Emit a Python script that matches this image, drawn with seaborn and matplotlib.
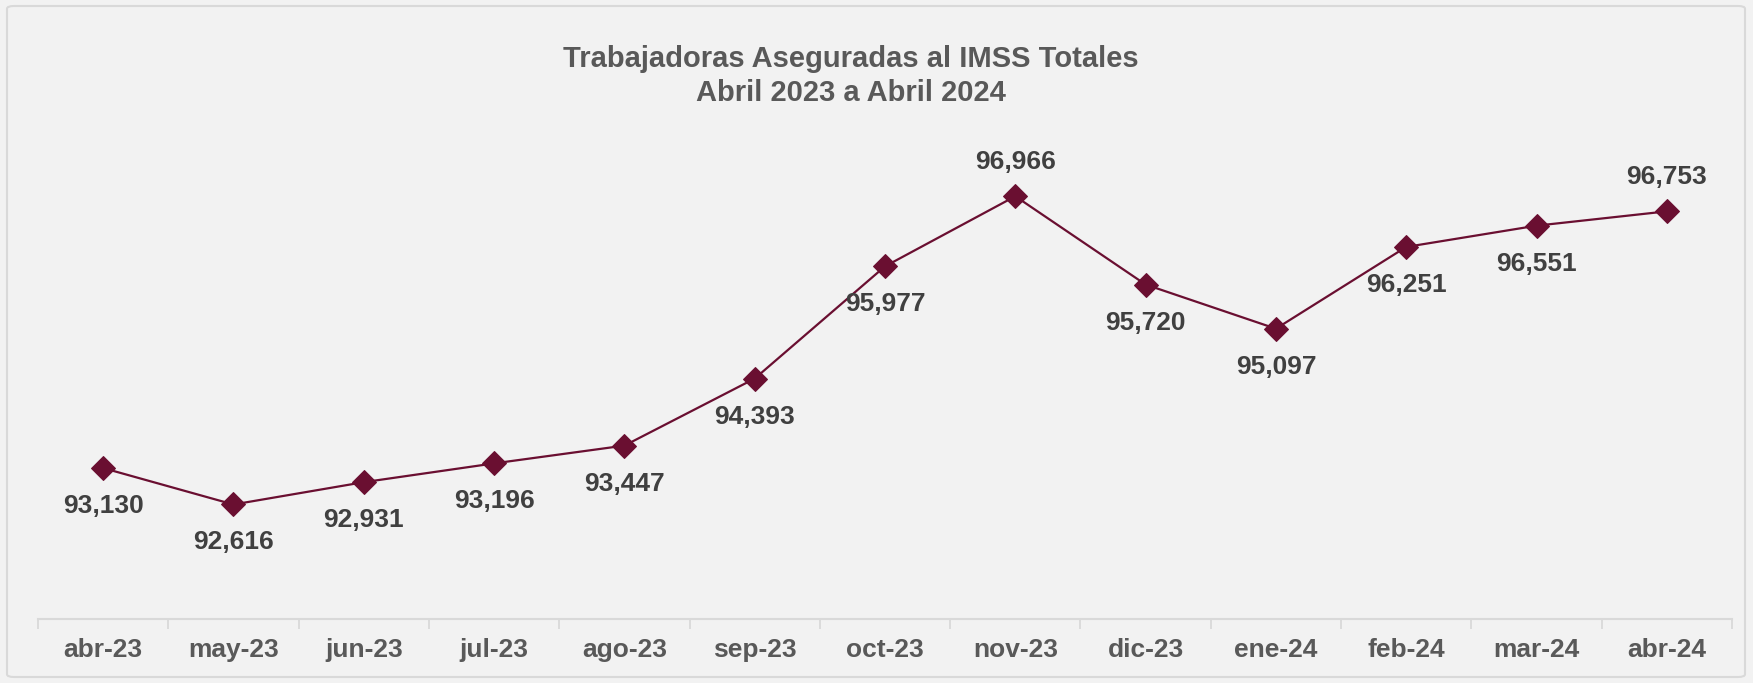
import matplotlib
matplotlib.use("Agg")
import matplotlib.pyplot as plt
import seaborn as sns
import pandas as pd
from matplotlib.patches import FancyBboxPatch

months = ["abr-23", "may-23", "jun-23", "jul-23", "ago-23", "sep-23", "oct-23",
          "nov-23", "dic-23", "ene-24", "feb-24", "mar-24", "abr-24"]
workers = [93130, 92616, 92931, 93196, 93447, 94393, 95977,
           96966, 95720, 95097, 96251, 96551, 96753]
title_lines = ["Trabajadoras Aseguradas al IMSS Totales", "Abril 2023 a Abril 2024"]

sns.set_theme(style="white")
plt.rcParams['font.family'] = ['Liberation Sans', 'DejaVu Sans']
plt.rcParams['font.weight'] = 'bold'

BG = "#f2f2f2"
LINE = "#6a0f31"
W, H = 1753, 683
fig = plt.figure(figsize=(W / 100, H / 100), dpi=100, facecolor=BG)

# outer border
fig.patches.append(FancyBboxPatch((7 / W, 6 / H), (1745 - 7) / W, (677 - 6) / H,
                                  boxstyle="round,pad=0,rounding_size=0.004",
                                  transform=fig.transFigure, facecolor="none",
                                  edgecolor="#d9d9d9", linewidth=1.5, zorder=0))

ax = fig.add_axes([38 / W, 1 - 619 / H, (1732 - 38) / W, (619 - 123) / H])
ax.set_facecolor(BG)
ax.patch.set_alpha(0)

df = pd.DataFrame({"idx": range(len(months)), "month": months, "value": workers})
sns.lineplot(data=df, x="idx", y="value", ax=ax, color=LINE, linewidth=1.6,
             marker="D", markersize=12, markeredgecolor=LINE, markerfacecolor=LINE)

ax.set_xlim(-0.5, len(months) - 0.5)
ax.set_ylim(91000, 98000)
ax.set_xticks(range(len(months)))
ax.set_xticklabels(months, fontsize=19, fontweight='bold', color="#595959")
ax.set_xticks([i - 0.5 for i in range(len(months) + 1)], minor=True)
ax.tick_params(axis='x', which='major', bottom=True, length=0, pad=14)
ax.tick_params(axis='x', which='minor', bottom=True, length=7, width=1.3,
               color="#d9d9d9", direction='out')
ax.set_yticks([])
ax.set_xlabel("")
ax.set_ylabel("")
for s in ["top", "right", "left"]:
    ax.spines[s].set_visible(False)
ax.spines["bottom"].set_color("#d9d9d9")
ax.spines["bottom"].set_linewidth(1.5)

above = {"nov-23", "abr-24"}
for i, (m, v) in enumerate(zip(months, workers)):
    off = 34 if m in above else -38
    ax.annotate(f"{v:,}", (i, v), xytext=(0, off), textcoords="offset pixels",
                ha="center", va="center", fontsize=19, fontweight="bold", color="#404040")

fig.text(851 / W, 1 - 67 / H, title_lines[0], ha="center", va="baseline",
         fontsize=21, fontweight="bold", color="#595959")
fig.text(851 / W, 1 - 101 / H, title_lines[1], ha="center", va="baseline",
         fontsize=21, fontweight="bold", color="#595959")

fig.savefig("out.png", dpi=100, facecolor=BG)
